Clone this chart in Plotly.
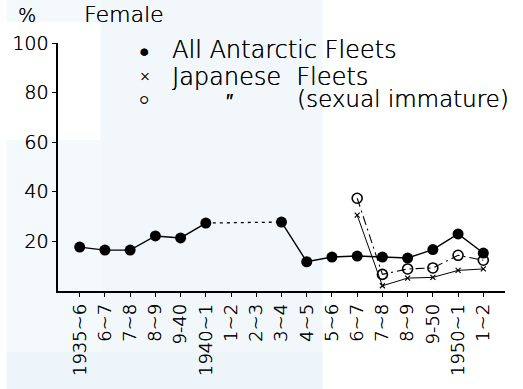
import plotly.graph_objects as go

# Whaling seasons on the x axis
seasons = ["1935~6", "6~7", "7~8", "8~9", "9-40", "1940~1", "1~2", "2~3", "3~4",
           "4~5", "5~6", "6~7", "7~8", "8~9", "9-50", "1950~1", "1~2"]

# Percentage of females in the catch (None = no data, war years)
all_antarctic = [17.7, 16.5, 16.5, 22.2, 21.4, 27.4, None, None, 27.8,
                 11.8, 13.7, 14.1, 13.7, 13.3, 16.7, 23.0, 15.3]
japanese = [None] * 11 + [30.6, 2.1, 5.2, 5.5, 8.3, 8.9]
japanese_immature = [None] * 11 + [37.4, 6.7, 8.9, 9.3, 14.4, 12.4]

W, H = 523, 389
ML, MR, MT, MB = 52, 18, 43, 98
PW, PH = W - ML - MR, H - MT - MB
FONT = "DejaVu Sans, sans-serif"
WEIGHT = 200
INK = "#000000"
# thin lettering, thickened a touch so strokes read as pen lines
PEN = "0.3px 0 0 #000"


def px(x):
    return (x - ML) / PW


def py(y):
    return (H - MB - y) / PH


def pen_font(size):
    return dict(family=FONT, size=size, color=INK, weight=WEIGHT, shadow=PEN)


xs = list(range(len(seasons)))
fig = go.Figure()

# pale watermark behind the chart
for x0, y0, x1, y1, c in [
    (95, 0, 320, 389, "#f2f7fb"),
    (0, 0, 95, 22, "#f4f9fc"),
    (0, 140, 95, 389, "#f4f9fc"),
    (0, 352, 320, 389, "#eef5fa"),
]:
    fig.add_shape(type="rect", xref="paper", yref="paper",
                  x0=px(x0), x1=px(x1), y0=py(y1), y1=py(y0),
                  fillcolor=c, line_width=0, layer="below")

# dotted bridge across the war-time gap
gap_idx = [5, 8]
fig.add_trace(go.Scatter(
    x=gap_idx, y=[all_antarctic[i] for i in gap_idx], mode="lines",
    line=dict(color=INK, width=1.3, dash="3px,4px"), hoverinfo="skip"))

# Japanese fleets, sexually immature
fig.add_trace(go.Scatter(
    x=xs, y=japanese_immature, mode="lines+markers",
    line=dict(color=INK, width=1.1, dash="9px,4px,2px,4px"),
    marker=dict(symbol="circle-open", size=10, color=INK, line=dict(width=1.6))))

# Japanese fleets
fig.add_trace(go.Scatter(
    x=xs, y=japanese, mode="lines+markers",
    line=dict(color=INK, width=1.0),
    marker=dict(symbol="x-thin", size=5, color=INK, line=dict(width=1.2, color=INK))))

# All Antarctic fleets
fig.add_trace(go.Scatter(
    x=xs, y=all_antarctic, mode="lines+markers", connectgaps=False,
    line=dict(color=INK, width=1.4),
    marker=dict(symbol="circle", size=11, color=INK)))

annotations = [
    dict(text="%", x=px(21), y=py(15), size=19),
    dict(text="Female", x=px(119), y=py(14), size=22),
    dict(text="●", x=px(139), y=py(51), size=17),
    dict(text="×", x=px(140), y=py(76), size=14),
    dict(text="○", x=px(139), y=py(99), size=17),
    dict(text="All Antarctic Fleets", x=px(166), y=py(50), xanchor="left", size=24),
    dict(text="Japanese  Fleets", x=px(166), y=py(77), xanchor="left", size=24),
    dict(text="″", x=px(226), y=py(101), size=20),
    dict(text="(sexual immature)", x=px(292), y=py(99), xanchor="left", size=23),
]
for a in annotations:
    fig.add_annotation(
        text=a["text"], x=a["x"], y=a["y"], xref="paper", yref="paper",
        xanchor=a.get("xanchor", "center"), yanchor="middle", showarrow=False,
        font=pen_font(a["size"]))

fig.update_layout(
    width=W, height=H, showlegend=False,
    margin=dict(l=ML, r=MR, t=MT, b=MB, pad=0),
    paper_bgcolor="white", plot_bgcolor="rgba(0,0,0,0)",
    font=dict(family=FONT, color=INK, weight=WEIGHT),
    xaxis=dict(
        range=[-0.86, 16.86], tickmode="array", tickvals=xs, ticktext=seasons,
        tickangle=-90, tickfont=pen_font(18),
        showgrid=False, zeroline=False, showline=True, linecolor=INK, linewidth=1.5,
        ticks="outside", ticklen=4, tickcolor=INK, tickwidth=1),
    yaxis=dict(
        range=[0, 100], tickvals=[20, 40, 60, 80, 100],
        tickfont=pen_font(19),
        showgrid=False, zeroline=False, showline=True, linecolor=INK, linewidth=1.5,
        ticks="outside", ticklen=4, tickcolor=INK, tickwidth=1),
)

fig.write_html("out.html")
